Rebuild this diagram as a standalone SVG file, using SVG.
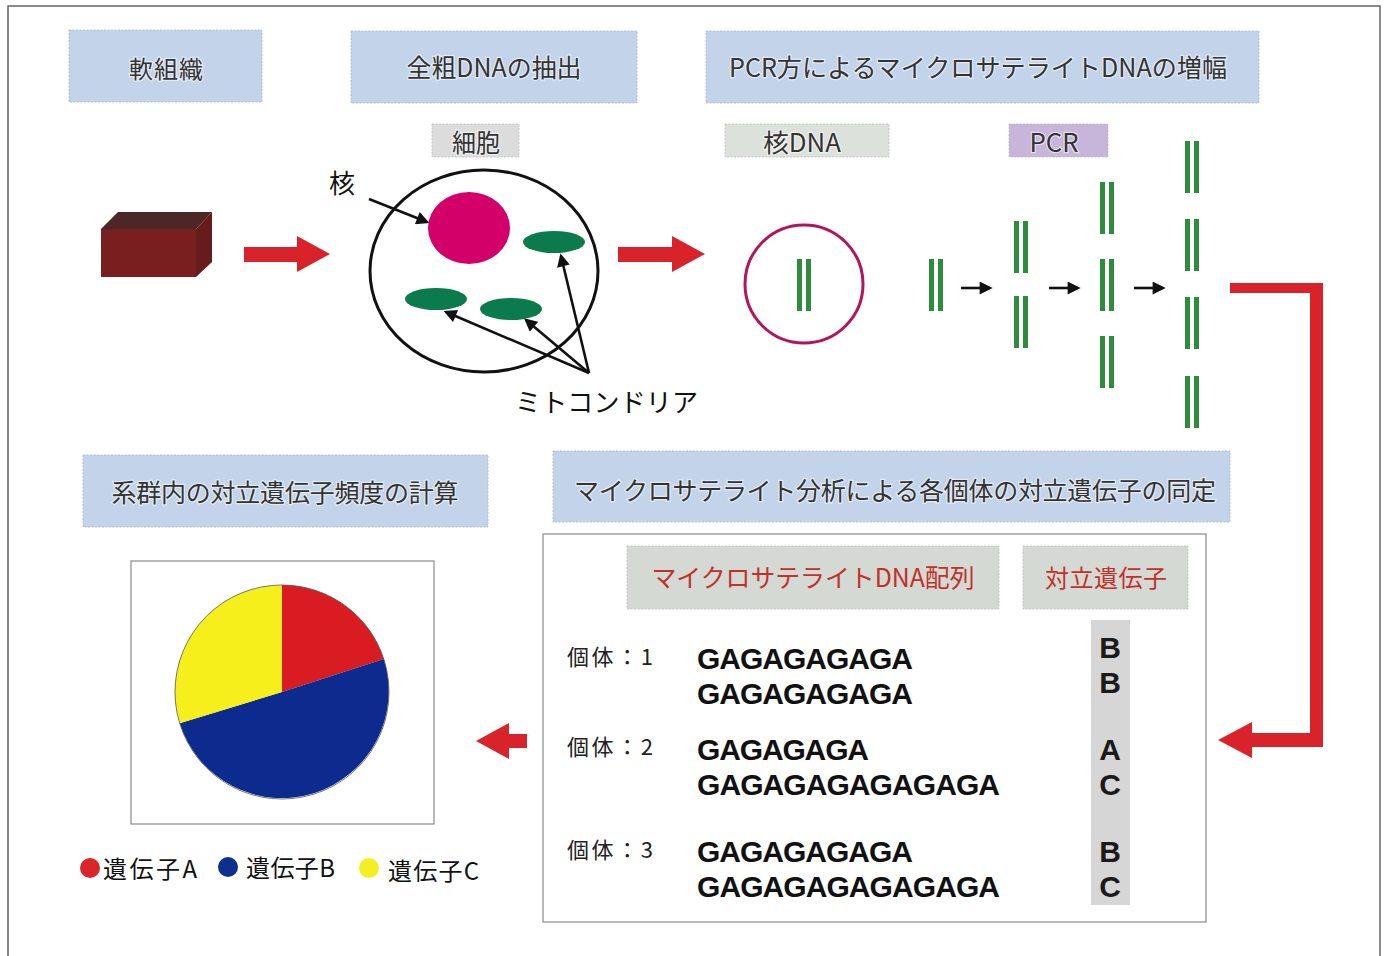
<svg xmlns="http://www.w3.org/2000/svg" width="1386" height="956" viewBox="0 0 1386 956">
  <defs>
    <style>
      .jp { font-family: "Noto Sans CJK JP", "Noto Sans", sans-serif; }
      .hdr { fill: #c3d3e9; stroke: #aab7c8; stroke-width: 0.8; stroke-dasharray: 2 1.5; }
      .tag { stroke: #bcbcbc; stroke-width: 0.8; stroke-dasharray: 2 1.5; }
      .htxt { font-family: "Noto Sans CJK JP", "Noto Sans", sans-serif; font-size: 24px; fill: #333; text-anchor: middle; stroke: #ffffff; stroke-width: 2.5; stroke-opacity: 0.55; paint-order: stroke; }
      .lbl { font-family: "Noto Sans CJK JP", "Noto Sans", sans-serif; font-size: 26px; fill: #111; }
      .seq { font-family: "Liberation Sans", Arial, sans-serif; font-weight: bold; font-size: 30px; fill: #111; }
      .allele { font-family: "Liberation Sans", Arial, sans-serif; font-weight: bold; font-size: 30px; fill: #1a1a1a; text-anchor: middle; }
      .ind { font-family: "Noto Sans CJK JP", "Noto Sans", sans-serif; font-size: 22px; fill: #222; }
      .red { fill: #d9232a; }
      .dna { fill: #2f8c3c; }
      .mito { fill: #0b7a4c; }
      .blk { stroke: #111; stroke-width: 2.6; fill: none; }
    </style>
    <marker id="ah" viewBox="0 0 10 10" refX="8" refY="5" markerWidth="5.5" markerHeight="5" orient="auto" markerUnits="strokeWidth">
      <path d="M0,0 L10,5 L0,10 Z" fill="#111"/>
    </marker>
    <!-- one double strand of DNA, 52px long -->
    <g id="strand">
      <rect x="-7" y="0" width="5" height="52"/>
      <rect x="2" y="0" width="5" height="52"/>
    </g>
  </defs>

  <rect width="1386" height="956" fill="#ffffff"/>
  <!-- page frame -->
  <rect x="8" y="6" width="1372" height="970" fill="none" stroke="#666" stroke-width="1.5"/>

  <!-- step headers -->
  <g id="hdr-tissue">
    <rect class="hdr" x="69" y="30" width="193" height="72"/>
    <text class="htxt" x="166" y="78" textLength="74">軟組織</text>
  </g>
  <g id="hdr-extract">
    <rect class="hdr" x="351" y="31" width="286" height="72"/>
    <text class="htxt" x="494" y="77" textLength="175" lengthAdjust="spacingAndGlyphs" style="font-size:25px">全粗DNAの抽出</text>
  </g>
  <g id="hdr-pcr">
    <rect class="hdr" x="706" y="31" width="553" height="72"/>
    <text class="htxt" x="978" y="77" textLength="498" lengthAdjust="spacingAndGlyphs" style="font-size:25px">PCR方によるマイクロサテライトDNAの増幅</text>
  </g>
  <g id="hdr-frequency">
    <rect class="hdr" x="83" y="455" width="405" height="72"/>
    <text class="htxt" x="285" y="502" textLength="347" style="font-size:25px">系群内の対立遺伝子頻度の計算</text>
  </g>
  <g id="hdr-identify">
    <rect class="hdr" x="553" y="451" width="677" height="71"/>
    <text class="htxt" x="895" y="500" textLength="642" style="font-size:25px">マイクロサテライト分析による各個体の対立遺伝子の同定</text>
  </g>

  <!-- small tags -->
  <g id="tag-cell">
    <rect class="tag" x="432" y="124" width="87" height="33" fill="#dcdcdc"/>
    <text class="htxt" x="476" y="152" textLength="48" lengthAdjust="spacingAndGlyphs" style="font-size:25px">細胞</text>
  </g>
  <g id="tag-ndna">
    <rect class="tag" x="725" y="124" width="164" height="33" fill="#dde1dc"/>
    <text class="htxt" x="802" y="152" textLength="78" lengthAdjust="spacingAndGlyphs" style="font-size:25px">核DNA</text>
  </g>
  <g id="tag-pcr">
    <rect class="tag" x="1009" y="124" width="99" height="33" fill="#c7b6d9"/>
    <text class="htxt" x="1054" y="152" textLength="49" lengthAdjust="spacingAndGlyphs" style="font-size:25px">PCR</text>
  </g>

  <!-- soft tissue block -->
  <g id="tissue">
    <polygon points="101,229 118,212 212,212 196,229" fill="#4d2727"/>
    <polygon points="196,229 212,212 212,262 196,277" fill="#661b1c"/>
    <rect x="101" y="229" width="95" height="48" fill="#7a1f1f"/>
  </g>

  <!-- cell with nucleus and mitochondria -->
  <g id="cell">
    <ellipse cx="484" cy="271" rx="114" ry="101" fill="none" stroke="#111" stroke-width="3"/>
    <ellipse cx="469" cy="228" rx="41" ry="36" fill="#d4006a"/>
    <ellipse class="mito" cx="554" cy="242" rx="31" ry="11"/>
    <ellipse class="mito" cx="436" cy="299" rx="31" ry="11"/>
    <ellipse class="mito" cx="511" cy="309" rx="31" ry="11"/>
  </g>
  <g id="label-nucleus">
    <text class="lbl" x="329" y="193">核</text>
  </g>
  <g id="label-mito">
    <text class="lbl" x="515" y="412" textLength="183">ミトコンドリア</text>
  </g>

  <!-- nuclear DNA -->
  <g id="nuclear-dna">
    <circle cx="804" cy="284" r="59" fill="none" stroke="#b3145c" stroke-width="3"/>
    <use href="#strand" class="dna" x="804" y="259"/>
  </g>

  <!-- PCR amplification stages -->
  <g id="pcr-1" class="dna">
    <use href="#strand" x="936" y="259"/>
  </g>
  <g id="pcr-2" class="dna">
    <use href="#strand" x="1021" y="221"/>
    <use href="#strand" x="1021" y="296"/>
  </g>
  <g id="pcr-3" class="dna">
    <use href="#strand" x="1107" y="182"/>
    <use href="#strand" x="1107" y="259"/>
    <use href="#strand" x="1107" y="336"/>
  </g>
  <g id="pcr-4" class="dna">
    <use href="#strand" x="1192" y="141"/>
    <use href="#strand" x="1192" y="219"/>
    <use href="#strand" x="1192" y="297"/>
    <use href="#strand" x="1192" y="376"/>
  </g>

  <!-- genotype table -->
  <g id="genotype-table">
    <rect x="543" y="534" width="663" height="388" fill="none" stroke="#8a8a8a" stroke-width="1.2"/>
    <rect class="tag" x="627" y="546" width="372" height="63" fill="#d4d9d3"/>
    <text class="jp" x="813" y="587" text-anchor="middle" font-size="25" fill="#c2302a" textLength="323" lengthAdjust="spacingAndGlyphs">マイクロサテライトDNA配列</text>
    <rect class="tag" x="1023" y="546" width="165" height="63" fill="#d4d9d3"/>
    <text class="jp" x="1106" y="587" text-anchor="middle" font-size="24" fill="#c2302a" textLength="122">対立遺伝子</text>
    <rect x="1091" y="620" width="39" height="285" fill="#d6d6d6"/>

    <text class="ind" x="567" y="665" textLength="86">個体：1</text>
    <text class="seq" x="697" y="669" textLength="216">GAGAGAGAGA</text>
    <text class="seq" x="697" y="704" textLength="216">GAGAGAGAGA</text>

    <text class="ind" x="567" y="755" textLength="86">個体：2</text>
    <text class="seq" x="697" y="760" textLength="172">GAGAGAGA</text>
    <text class="seq" x="697" y="795" textLength="303">GAGAGAGAGAGAGA</text>

    <text class="ind" x="567" y="858" textLength="86">個体：3</text>
    <text class="seq" x="697" y="862" textLength="216">GAGAGAGAGA</text>
    <text class="seq" x="697" y="897" textLength="303">GAGAGAGAGAGAGA</text>

    <text class="allele" x="1110" y="658">B</text>
    <text class="allele" x="1110" y="693">B</text>
    <text class="allele" x="1110" y="760">A</text>
    <text class="allele" x="1110" y="795">C</text>
    <text class="allele" x="1110" y="862">B</text>
    <text class="allele" x="1110" y="897">C</text>
  </g>

  <!-- allele frequency pie chart -->
  <g id="pie-chart">
    <rect x="131" y="561" width="303" height="263" fill="none" stroke="#8a8a8a" stroke-width="1.2"/>
    <path d="M282,692 L282,585 A107,107 0 0 1 383.8,658.9 Z" fill="#d81c22"/>
    <path d="M282,692 L383.8,658.9 A107,107 0 1 1 179.7,723.3 Z" fill="#0d2a8e"/>
    <path d="M282,692 L179.7,723.3 A107,107 0 0 1 282,585 Z" fill="#f6ef1c"/>
    <circle cx="282" cy="692" r="107" fill="none" stroke="#555" stroke-width="0.8"/>
  </g>

  <!-- legend -->
  <g id="legend">
    <circle cx="90" cy="868" r="10" fill="#d8262a"/>
    <text class="jp" x="103" y="878" font-size="24" fill="#111" textLength="94">遺伝子A</text>
    <circle cx="228" cy="867" r="10" fill="#0d2f8e"/>
    <text class="jp" x="246" y="877" font-size="24" fill="#111" textLength="89">遺伝子B</text>
    <circle cx="369" cy="868" r="10" fill="#f4ef22"/>
    <text class="jp" x="388" y="880" font-size="24" fill="#111" textLength="91">遺伝子C</text>
  </g>

  <!-- connectors -->
  <g id="connectors">
    <path class="red" d="M244,247 H297 V236 L330,254 L297,272 V262 H244 Z"/>
    <path class="red" d="M618,247 H672 V236 L705,254 L672,272 V262 H618 Z"/>
    <path class="red" d="M1230,283 H1323 V747 H1252 V758 L1218,740 L1252,722 V733 H1310 V293 H1230 Z"/>
    <path class="red" d="M527,734 H509 V723 L476,741 L509,759 V748 H527 Z"/>

    <line class="blk" x1="369" y1="199" x2="427" y2="222" marker-end="url(#ah)"/>
    <line class="blk" x1="589" y1="373" x2="561" y2="256" marker-end="url(#ah)"/>
    <line class="blk" x1="589" y1="373" x2="526" y2="320" marker-end="url(#ah)"/>
    <line class="blk" x1="589" y1="373" x2="446" y2="312" marker-end="url(#ah)"/>

    <line class="blk" x1="961" y1="288" x2="990" y2="288" stroke-width="3" marker-end="url(#ah)"/>
    <line class="blk" x1="1049" y1="288" x2="1078" y2="288" stroke-width="3" marker-end="url(#ah)"/>
    <line class="blk" x1="1134" y1="288" x2="1163" y2="288" stroke-width="3" marker-end="url(#ah)"/>
  </g>
</svg>
